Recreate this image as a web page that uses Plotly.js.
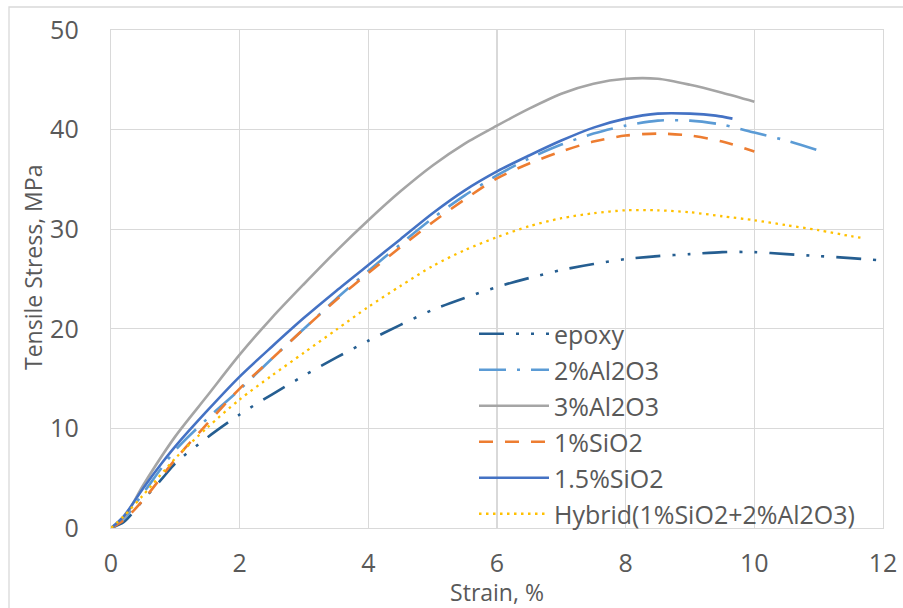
<!DOCTYPE html>
<html>
<head>
<meta charset="utf-8">
<script src="https://cdn.plot.ly/plotly-3.0.1.min.js"></script>
<style>html,body{margin:0;padding:0;background:#fff;}#chart{width:903px;height:608px;}</style>
</head>
<body>
<div id="chart"></div>
<script>
// Series names
const seriesNames = ["epoxy", "2%Al2O3", "3%Al2O3", "1%SiO2", "1.5%SiO2", "Hybrid(1%SiO2+2%Al2O3)"];

// Strain (%) and tensile stress (MPa)
const epoxyStrain = [0,0.2,0.5,0.8,1,1.5,2,2.5,3,3.5,4,4.5,5,5.5,6,6.5,7,7.5,8,8.5,9,9.5,10,10.5,11,11.5,11.9];
const epoxyStress = [0,0.6,2.8,5.0,6.5,9.1,11.4,13.4,15.3,17.1,18.8,20.4,21.9,23.1,24.2,25.1,25.9,26.5,27.0,27.3,27.5,27.7,27.7,27.5,27.3,27.1,26.9];

const al2Strain = [0,0.2,0.5,1,1.5,2,2.5,3,3.5,4,4.5,5,5.5,6,6.5,7,7.5,8,8.5,9,9.5,10,10.5,11];
const al2Stress = [0,0.9,3.5,7.8,11.0,13.9,17.0,20.0,23.0,25.8,28.5,31.1,33.4,35.4,37.1,38.5,39.6,40.4,40.9,40.9,40.5,39.7,38.9,37.9];

const al3Strain = [0,0.2,0.5,1,1.5,2,2.5,3,3.5,4,4.5,5,5.5,6,6.5,7,7.5,8,8.5,9,9.5,10];
const al3Stress = [0,1.0,4.3,9.2,13.3,17.4,21.1,24.5,27.8,30.9,33.8,36.4,38.6,40.4,42.1,43.6,44.6,45.1,45.1,44.5,43.7,42.8];

const si1Strain = [0,0.2,0.5,1,1.5,2,2.5,3,3.5,4,4.5,5,5.5,6,6.5,7,7.5,8,8.5,9,9.5,10];
const si1Stress = [0,0.8,2.8,6.9,10.5,14.0,17.0,20.0,22.9,25.6,28.2,30.7,33.0,35.1,36.6,37.8,38.8,39.4,39.6,39.4,38.8,37.8];

const si15Strain = [0,0.2,0.5,0.8,1,1.5,2,2.5,3,3.5,4,4.5,5,5.5,6,6.5,7,7.5,8,8.5,9,9.4,9.66];
const si15Stress = [0,1.2,4.0,6.6,8.2,11.8,15.2,18.2,21.1,23.8,26.4,29.0,31.6,33.9,35.8,37.4,38.9,40.2,41.1,41.6,41.6,41.4,41.1];

const hybStrain = [0,0.2,0.5,1,1.5,2,2.5,3,3.5,4,4.5,5,5.5,6,6.5,7,7.5,8,8.5,9,9.5,10,10.5,11,11.5,11.7];
const hybStress = [0,1.2,3.3,7.0,10.1,12.9,15.3,17.6,19.9,22.2,24.3,26.3,27.9,29.2,30.3,31.1,31.6,31.9,31.9,31.7,31.3,30.9,30.4,29.9,29.3,29.1];

// Axis ticks
const xTicks = [0,2,4,6,8,10,12];
const yTicks = [0,10,20,30,40,50];

const font = "'Open Sans', 'Noto Sans', sans-serif";
const textColor = "#595959";
const gridColor = "#D9D9D9";

const styles = [
  {color:"#255E91", width:2.6, dash:"25px,12px,3px,12px,3px,12px"},
  {color:"#5B9BD5", width:2.6, dash:"27px,11px,3px,11px"},
  {color:"#A5A5A5", width:2.6, dash:"solid"},
  {color:"#ED7D31", width:2.6, dash:"14px,12px"},
  {color:"#4472C4", width:2.6, dash:"solid"},
  {color:"#FFC000", width:2.3, dash:"2.5px,4.5px"}
];
const xs = [epoxyStrain, al2Strain, al3Strain, si1Strain, si15Strain, hybStrain];
const ys = [epoxyStress, al2Stress, al3Stress, si1Stress, si15Stress, hybStress];

const traces = seriesNames.map((n,i) => ({
  type:"scatter", mode:"lines", name:n,
  x: xs[i], y: ys[i],
  line: Object.assign({shape:"spline", smoothing:0.8}, styles[i]),
  legendgroup: "g"+i
}));

const L=111, R=20, T=30, B=80;
const pw = 903-L-R, ph = 608-T-B;

const layout = {
  width:903, height:608,
  margin:{l:L, r:R, t:T, b:B, pad:0},
  paper_bgcolor:"#fff", plot_bgcolor:"#fff",
  font:{family:font, color:textColor},
  showlegend:true,
  legend:{
    x:(474-L)/pw, y:(528-311)/ph, xanchor:"left", yanchor:"top",
    bgcolor:"rgba(255,255,255,0)", borderwidth:0,
    font:{family:font, size:25, color:textColor},
    traceorder:"grouped", tracegroupgap:0.5, itemwidth:70
  },
  xaxis:{
    range:[0,12], tickvals:xTicks, ticktext:xTicks.map(String),
    showgrid:true, gridcolor:gridColor, gridwidth:1.3,
    zeroline:false, showline:true, mirror:true, linecolor:gridColor, linewidth:1.3,
    ticks:"", ticklabelstandoff:13,
    tickfont:{family:font, size:25, color:textColor},
    title:{text:"Strain, %", font:{family:font, size:23, color:textColor}, standoff:10},
    automargin:false, fixedrange:true
  },
  yaxis:{
    range:[0,50], tickvals:yTicks, ticktext:yTicks.map(String),
    showgrid:true, gridcolor:gridColor, gridwidth:1.3,
    zeroline:false, showline:true, mirror:true, linecolor:gridColor, linewidth:1.3,
    ticks:"", ticklabelstandoff:26,
    tickfont:{family:font, size:25, color:textColor},
    automargin:false, fixedrange:true
  },
  annotations:[{
    text:"Tensile Stress, MPa", xref:"paper", yref:"paper",
    x:(33-L)/pw, y:(528-268)/ph, xanchor:"center", yanchor:"middle",
    textangle:-90, showarrow:false,
    font:{family:font, size:23, color:textColor}
  }],
  shapes:[{
    type:"rect", xref:"paper", yref:"paper", layer:"below",
    x0:(9-L)/pw, x1:(910-L)/pw, y0:(528-615)/ph, y1:(528-7)/ph,
    line:{color:gridColor, width:1.3}, fillcolor:"rgba(0,0,0,0)"
  }]
};

Plotly.newPlot("chart", traces, layout, {displayModeBar:false, staticPlot:true});
</script>
</body>
</html>
